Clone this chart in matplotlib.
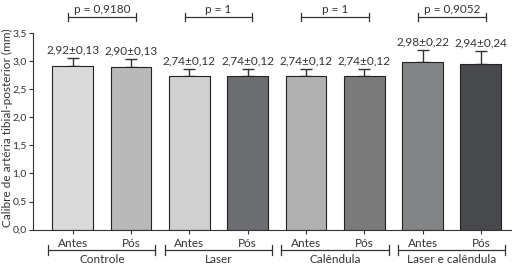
import numpy as np
import matplotlib.pyplot as plt
from matplotlib.ticker import FuncFormatter

groups = ['Controle', 'Laser', 'Calêndula', 'Laser e calêndula']
moments = ['Antes', 'Pós']
means = [2.92, 2.90, 2.74, 2.74, 2.74, 2.74, 2.98, 2.94]
sds = [0.13, 0.13, 0.12, 0.12, 0.12, 0.12, 0.22, 0.24]
p_values = ['p = 0,9180', 'p = 1', 'p = 1', 'p = 0,9052']
colors = ['#dadada', '#b9b9b9', '#d0d0d0', '#6d6e71',
          '#b1b1b1', '#7a7a7b', '#838486', '#48494d']

plt.rcParams['font.family'] = ['Lato', 'DejaVu Sans']
fs = 8.5

fig = plt.figure(figsize=(5.12, 2.64), dpi=100)
ax = fig.add_axes([0.0645, 0.13, 0.934, 0.745])

x = np.arange(len(means))
ax.bar(x, means, width=0.70, color=colors, edgecolor='#222222', linewidth=0.8, zorder=2)
ax.errorbar(x, means, yerr=[np.zeros(len(sds)), sds], fmt='none', ecolor='#333333',
            elinewidth=1.0, capsize=4.5, capthick=1.0, zorder=1)

for xi, m, s in zip(x, means, sds):
    lbl = f'{m:.2f}±{s:.2f}'.replace('.', ',')
    ax.text(xi, m + s + 0.05, lbl, ha='center', va='bottom', fontsize=fs, color='#333333')

ax.set_xlim(-0.68, 7.52)
ax.set_ylim(0, 3.5)
ax.set_yticks(np.arange(0, 3.51, 0.5))
ax.yaxis.set_major_formatter(FuncFormatter(lambda v, _: f'{v:.1f}'.replace('.', ',')))
ax.set_xticks(x)
ax.set_xticklabels(moments * len(groups))
ax.tick_params(axis='both', labelsize=fs, colors='#333333', length=3, width=0.8)
ax.tick_params(axis='y', labelsize=7.5, pad=1.5)
ax.tick_params(axis='x', pad=3)
fig.text(7 / 512, 1 - 128 / 264, 'Calibre de artéria tibial-posterior (mm)', rotation=90,
         ha='center', va='center', fontsize=fs, color='#333333')
ax.spines['top'].set_visible(False)
ax.spines['right'].set_visible(False)
for sp in ['left', 'bottom']:
    ax.spines[sp].set_color('#333333')
    ax.spines[sp].set_linewidth(0.8)

trans = ax.get_xaxis_transform()
for i, (g, p) in enumerate(zip(groups, p_values)):
    a, b = 2 * i, 2 * i + 1
    # p-value bracket above
    y0 = 3.785
    ax.plot([a - 0.08, b + 0.08], [y0, y0], color='#333333', lw=0.9, clip_on=False)
    for xe in (a - 0.08, b + 0.08):
        ax.plot([xe, xe], [y0 - 0.07, y0 + 0.07], color='#333333', lw=0.9, clip_on=False)
    ax.text((a + b) / 2, y0 + 0.03, p, ha='center', va='bottom', fontsize=fs,
            color='#333333', clip_on=False)
    # group bracket below
    l, r = a - 0.42, b + 0.42
    yb = -0.105
    ax.plot([l, r], [yb, yb], transform=trans, color='#333333', lw=0.9, clip_on=False)
    for xe in (l, r):
        ax.plot([xe, xe], [yb - 0.025, yb + 0.025], transform=trans, color='#333333',
                lw=0.9, clip_on=False)
    ax.text((a + b) / 2, yb - 0.02, g, transform=trans, ha='center', va='top',
            fontsize=fs, color='#333333', clip_on=False)

fig.savefig('out.png', dpi=100)
